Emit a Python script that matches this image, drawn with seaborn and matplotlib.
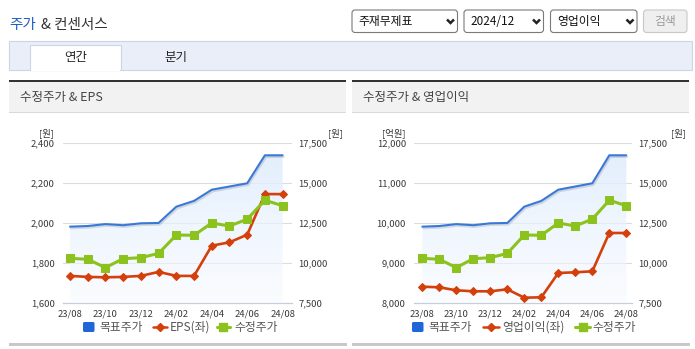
import numpy as np
import pandas as pd
import matplotlib
matplotlib.use("Agg")
import matplotlib.pyplot as plt
import matplotlib.patheffects as pe
from matplotlib.patches import Rectangle, FancyBboxPatch
import seaborn as sns

# ---- data ----
months = ["23/08", "23/09", "23/10", "23/11", "23/12", "24/01", "24/02",
          "24/03", "24/04", "24/05", "24/06", "24/07", "24/08"]
target_price = [12290, 12330, 12450, 12380, 12500, 12520, 13540,
                13900, 14600, 14800, 15000, 16750, 16750]
adj_price = [10310, 10250, 9730, 10290, 10350, 10620, 11770,
             11750, 12520, 12330, 12760, 13940, 13600]
eps = [1737, 1732, 1730, 1732, 1737, 1757, 1737,
       1737, 1888, 1905, 1943, 2146, 2146]
op_income = [8415, 8400, 8325, 8300, 8300, 8350, 8140,
             8150, 8758, 8775, 8800, 9758, 9758]

price_ticks = [7500, 10000, 12500, 15000, 17500]
eps_ticks = [1600, 1800, 2000, 2200, 2400]
op_ticks = [8000, 9000, 10000, 11000, 12000]

df = pd.DataFrame({"month": months, "idx": np.arange(len(months)),
                   "target": target_price, "adj": adj_price,
                   "eps": eps, "op": op_income})

sns.set_theme(style="white")
plt.rcParams["font.family"] = ["Noto Sans CJK KR", "DejaVu Sans"]

BLUE = "#3a78d8"
BLUE_KEY = "#1f66d8"
RED = "#d4400c"
GREEN = "#8cc21e"
AXIS = "#c5cedb"
GRID = "#dcdcdc"
TXT = "#3a3a3a"
TICK_FS = 6.8

W, H = 695, 349
fig = plt.figure(figsize=(W / 100, H / 100), dpi=100)
bg = fig.add_axes([0, 0, 1, 1])
bg.set_xlim(0, W)
bg.set_ylim(H, 0)
bg.axis("off")
bg.set_zorder(0)


def rbox(x0, y0, x1, y1, fc, ec, r=3, lw=0.8):
    bg.add_patch(FancyBboxPatch((x0, y0), x1 - x0, y1 - y0,
                                boxstyle=f"round,pad=0,rounding_size={r}",
                                fc=fc, ec=ec, lw=lw))


def rect(x0, y0, x1, y1, fc, ec="none", lw=0):
    bg.add_patch(Rectangle((x0, y0), x1 - x0, y1 - y0, fc=fc, ec=ec, lw=lw))


def txt(x, y, s, size, color=TXT, ha="left", va="center"):
    bg.text(x, y, s, fontsize=size, color=color, ha=ha, va=va)


# ---- page header ----
txt(9.5, 25, "주가", 10.5, "#1f5fc4")
txt(41, 25, "& 컨센서스", 10.5, "#333333")

for (x0, x1, label) in [(352, 457.5, "주재무제표"), (464, 543.5, "2024/12"),
                        (550.5, 637, "영업이익")]:
    rbox(x0, 10, x1, 32.5, "white", "#7a7a7a")
    txt(x0 + 6.5, 21.5, label, 8.5, "#111111")
    cx = x1 - 7
    bg.plot([cx - 3.5, cx, cx + 3.5], [19.5, 23, 19.5], color="#222222",
            lw=1.8, solid_capstyle="butt", solid_joinstyle="miter")
rbox(643.5, 10, 687, 32.5, "#efefef", "#c8c8c8")
txt(665, 21.5, "검색", 8.5, "#9a9a9a", ha="center")

# tab bar
rect(9, 40.5, 692, 69.5, "#e9eef8", "#cbd5e5", 0.8)
bg.add_patch(Rectangle((30, 45), 91, 25, fc="white", ec="#cbd5e5", lw=0.8))
rect(30.6, 68, 120.4, 70.5, "white")
txt(75.5, 57, "연간", 9, "#222222", ha="center")
txt(176, 57, "분기", 9, "#222222", ha="center")

# ---- panels ----
panels = [
    dict(x0=9, x1=346, title="수정주가 & EPS", ax=(63, 291.7),
         first=70, step=17.72, lunit="[원]", lunit_x=46.5, runit_x=335,
         left_vals=eps, left_ticks=eps_ticks, left_name="EPS(좌)",
         legend=(83, 99.5, 153, 167, 170, 216.5, 229.5, 234)),
    dict(x0=352, x1=689, title="수정주가 & 영업이익", ax=(414.3, 631.7),
         first=422.3, step=17.0, lunit="[억원]", lunit_x=394, runit_x=678,
         left_vals=op_income, left_ticks=op_ticks, left_name="영업이익(좌)",
         legend=(412, 428, 483, 499, 502, 575, 590, 592)),
]

TOP, BOT = 143.3, 303.3
n = len(months)
order = 1
for p in panels:
    # panel frame
    rect(p["x0"], 80, p["x1"], 82, "#333333")
    rect(p["x0"], 82, p["x1"], 112, "#f2f2f2")
    rect(p["x0"], 111.5, p["x1"], 112.5, "#d9d9d9")
    txt(p["x0"] + 11, 97, p["title"], 9, "#444444")
    rect(p["x0"], 342.7, p["x1"] + 1, 345.7, "#c8c8c8")
    txt(p["lunit_x"], 132.7, p["lunit"], 6.8, "#333333", ha="center")
    txt(p["runit_x"], 132.7, "[원]", 6.8, "#333333", ha="center")

    ax0, ax1 = p["ax"]
    rect_f = [ax0 / W, 1 - BOT / H, (ax1 - ax0) / W, (BOT - TOP) / H]
    xlim = ((ax0 - p["first"]) / p["step"], (ax1 - p["first"]) / p["step"])

    base = fig.add_axes(rect_f)
    r1 = base.twinx()
    l2 = base.twinx()
    r2 = base.twinx()
    for z, a in enumerate([base, r1, l2, r2]):
        a.set_zorder(order + z)
        a.patch.set_visible(False)
        for s in a.spines.values():
            s.set_visible(False)
    order += 4

    # left scale axis: grid, x axis, left labels
    base.set_xlim(*xlim)
    base.set_ylim(p["left_ticks"][0], p["left_ticks"][-1])
    base.set_yticks(p["left_ticks"])
    base.set_yticklabels([f"{v:,}" for v in p["left_ticks"]])
    base.yaxis.grid(True, color=GRID, lw=0.8)
    base.set_axisbelow(True)
    base.spines["bottom"].set_visible(True)
    base.spines["bottom"].set_color(AXIS)
    base.spines["bottom"].set_linewidth(0.9)
    base.set_xticks(range(0, n, 2))
    base.set_xticklabels(months[::2])
    base.set_xticks([xlim[0]] + [i + 0.55 for i in range(0, n - 1, 2)], minor=True)
    base.tick_params(axis="x", which="major", length=0, pad=4.5,
                     labelsize=TICK_FS, labelcolor=TXT)
    base.tick_params(axis="x", which="minor", length=3.5, width=0.9,
                     color=AXIS, direction="out")
    base.tick_params(axis="y", length=0, pad=6, labelsize=TICK_FS, labelcolor=TXT)
    base.set_xlabel("")
    base.set_ylabel("")

    # right scale axis: area + target price line, right labels
    r1.set_ylim(price_ticks[0], price_ticks[-1])
    r1.set_yticks(price_ticks)
    r1.set_yticklabels([f"{v:,}" for v in price_ticks])
    r1.tick_params(axis="y", length=0, pad=5, labelsize=TICK_FS, labelcolor=TXT)
    area = r1.fill_between(df["idx"], df["target"], price_ticks[0],
                           facecolor="none", edgecolor="none")
    grad = np.zeros((256, 1, 4))
    t = np.linspace(0, 1, 256)
    top_c = np.array([0.86, 0.92, 0.99, 0.85])
    bot_c = np.array([0.965, 0.978, 1.0, 0.55])
    grad[:, 0, :] = top_c[None, :] * (1 - t[:, None]) + bot_c[None, :] * t[:, None]
    im = r1.imshow(grad, extent=(xlim[0], xlim[1], price_ticks[0], price_ticks[-1]),
                   aspect="auto", origin="upper", zorder=0.5)
    im.set_clip_path(area.get_paths()[0], transform=r1.transData)
    sns.lineplot(data=df, x="idx", y="target", ax=r1, color=BLUE, lw=1.5,
                 legend=False, zorder=2,
                 path_effects=[pe.SimpleLineShadow(offset=(0.8, -1.2), alpha=0.12,
                                                   shadow_color="black"),
                               pe.Normal()])
    r1.set_xlim(*xlim)
    r1.set_ylim(price_ticks[0], price_ticks[-1])
    r1.set_xlabel("")
    r1.set_ylabel("")

    # left scale series
    l2.set_ylim(p["left_ticks"][0], p["left_ticks"][-1])
    sns.lineplot(x=df["idx"], y=p["left_vals"], ax=l2, color=RED, lw=1.9,
                 marker="D", markersize=4, markeredgecolor=RED, legend=False,
                 clip_on=False)
    l2.set_ylim(p["left_ticks"][0], p["left_ticks"][-1])
    l2.set_xlim(*xlim)
    l2.set_yticks([])
    l2.set_ylabel("")

    # adjusted price on the right scale
    sns.lineplot(data=df, x="idx", y="adj", ax=r2, color=GREEN, lw=2.2,
                 marker="s", markersize=6, markeredgecolor=GREEN, legend=False,
                 clip_on=False)
    r2.set_ylim(price_ticks[0], price_ticks[-1])
    r2.set_xlim(*xlim)
    r2.set_yticks([])
    r2.set_ylabel("")
    r2.set_xlabel("")
    for a in (r1, l2, r2):
        a.tick_params(axis="x", which="both", length=0, labelbottom=False)

    # legend row
    bx, btx, rx0, rx1, rtx, gx0, gx1, gtx = p["legend"]
    ly = 327
    rbox(bx, ly - 5, bx + 11.5, ly + 5, BLUE_KEY, "none", r=1.5, lw=0)
    txt(btx, ly, "목표주가", 8.5, "#555555")
    bg.plot([rx0, rx1], [ly, ly], color=RED, lw=1.8)
    bg.plot([(rx0 + rx1) / 2], [ly], marker="D", ms=4, color=RED)
    txt(rtx, ly, p["left_name"], 8.5, "#555555")
    bg.plot([gx0, gx1], [ly, ly], color=GREEN, lw=2.2)
    bg.plot([(gx0 + gx1) / 2], [ly], marker="s", ms=5.5, color=GREEN)
    txt(gtx, ly, "수정주가", 8.5, "#555555")

fig.savefig("out.png", dpi=100)
